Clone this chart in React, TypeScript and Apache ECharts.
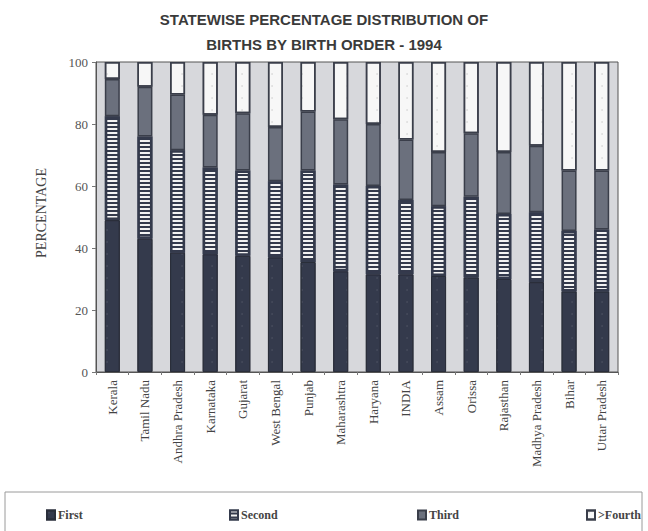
import React, { useEffect, useRef } from "react";
import * as echarts from "echarts";

const states = [
  "Kerala", "Tamil Nadu", "Andhra Pradesh", "Karnataka", "Gujarat", "West Bengal",
  "Punjab", "Maharashtra", "Haryana", "INDIA", "Assam", "Orissa", "Rajasthan",
  "Madhya Pradesh", "Bihar", "Uttar Pradesh",
];
const first = [49, 43, 38.5, 38, 37.5, 37, 35.5, 32.5, 31.5, 31.5, 31, 30.5, 30, 29, 26, 26];
const second = [33.5, 33, 33, 28, 27.5, 24.5, 29.5, 28, 28.5, 24, 22.5, 26, 21, 22.5, 19.5, 20];
const third = [12, 16, 18, 17, 18.5, 17.5, 19, 21, 20, 19.5, 17.5, 20.5, 20, 21.5, 19.5, 19];
const fourth = [5.5, 8, 10.5, 17, 16.5, 21, 16, 18.5, 20, 25, 29, 23, 29, 27, 35, 35];
const yTicks = [0, 20, 40, 60, 80, 100];

const SERIF = "'Liberation Serif', 'DejaVu Serif', serif";
const SANS = "'Liberation Sans', Arial, sans-serif";
const DARK = "#343a4c";

export default function App() {
  const ref = useRef<HTMLDivElement>(null);

  useEffect(() => {
    if (!ref.current) return;
    const chart = echarts.init(ref.current, undefined, { renderer: "svg" });

    const base = {
      type: "bar" as const,
      stack: "total",
      barWidth: 15,
    };

    const legendAt = (name: string, left: number) => ({
      data: [name],
      left,
      top: 504,
      icon: "rect",
      itemWidth: 8,
      itemHeight: 9,
      textStyle: {
        fontFamily: SERIF,
        fontWeight: "bold" as const,
        fontSize: 12,
        color: "#444",
        padding: [0, 0, 0, -2],
      },
      selectedMode: false,
    });

    chart.setOption({
      animation: false,
      backgroundColor: "#ffffff",
      title: {
        text: "STATEWISE PERCENTAGE DISTRIBUTION OF\nBIRTHS BY BIRTH ORDER - 1994",
        left: "center",
        top: 2,
        textStyle: {
          fontFamily: SANS,
          fontWeight: "bold",
          fontSize: 15,
          color: "#3a3a3a",
          lineHeight: 25,
        },
      },
      grid: {
        left: 96,
        right: 30,
        top: 62,
        bottom: 159,
        show: true,
        backgroundColor: "#d7d8dc",
        borderColor: "#555",
        borderWidth: 1,
      },
      graphic: [
        {
          type: "rect",
          shape: { x: 5, y: 492, width: 637, height: 60 },
          style: { fill: "none", stroke: "#9a9a9a", lineWidth: 1 },
          silent: true,
        },
      ],
      legend: [
        legendAt("First", 41),
        legendAt("Second", 224),
        legendAt("Third", 412),
        legendAt(">Fourth", 581),
      ],
      xAxis: {
        type: "category",
        data: states,
        axisLine: { lineStyle: { color: "#555" } },
        axisTick: { show: true, length: 3, lineStyle: { color: "#777" } },
        axisLabel: {
          rotate: 90,
          margin: 8,
          fontFamily: SERIF,
          fontSize: 13,
          color: "#444",
          interval: 0,
        },
      },
      yAxis: {
        type: "value",
        min: yTicks[0],
        max: yTicks[yTicks.length - 1],
        interval: 20,
        name: "PERCENTAGE",
        nameLocation: "middle",
        nameGap: 48,
        nameTextStyle: { fontFamily: SERIF, fontSize: 14, color: "#444", padding: [0, 0, 0, 8] },
        axisLine: { show: true, lineStyle: { color: "#555" } },
        axisTick: { show: true, length: 4, lineStyle: { color: "#777" } },
        axisLabel: { fontFamily: SERIF, fontSize: 13, color: "#555", margin: 8 },
        splitLine: { show: false },
      },
      series: [
        {
          ...base,
          name: "First",
          data: first,
          itemStyle: {
            color: DARK,
            borderColor: "#2a2e3a",
            borderWidth: 1,
            decal: {
              symbol: "circle",
              symbolSize: 0.3,
              color: "rgba(255,255,255,0.18)",
              dashArrayX: [4, 11],
              dashArrayY: [4, 8],
            },
          },
        },
        {
          ...base,
          name: "Second",
          data: second,
          itemStyle: {
            color: DARK,
            borderColor: DARK,
            borderWidth: 2.5,
            decal: {
              symbol: "rect",
              symbolSize: 1,
              color: "#f2f2f2",
              dashArrayX: [1, 0],
              dashArrayY: [2, 2],
            },
          },
        },
        {
          ...base,
          name: "Third",
          data: third,
          itemStyle: {
            color: "#6b707d",
            borderColor: "#3a3e4a",
            borderWidth: 1.5,
          },
        },
        {
          ...base,
          name: ">Fourth",
          data: fourth,
          itemStyle: {
            color: "#f7f7f7",
            borderColor: "#3a3e4a",
            borderWidth: 1.5,
            decal: {
              symbol: "circle",
              symbolSize: 0.3,
              color: "rgba(120,120,120,0.45)",
              dashArrayX: [4, 11],
              dashArrayY: [4, 8],
            },
          },
        },
      ],
    });

    return () => chart.dispose();
  }, []);

  return (
    <div
      ref={ref}
      style={{ position: "fixed", left: 0, top: 0, width: 648, height: 531 }}
    />
  );
}
